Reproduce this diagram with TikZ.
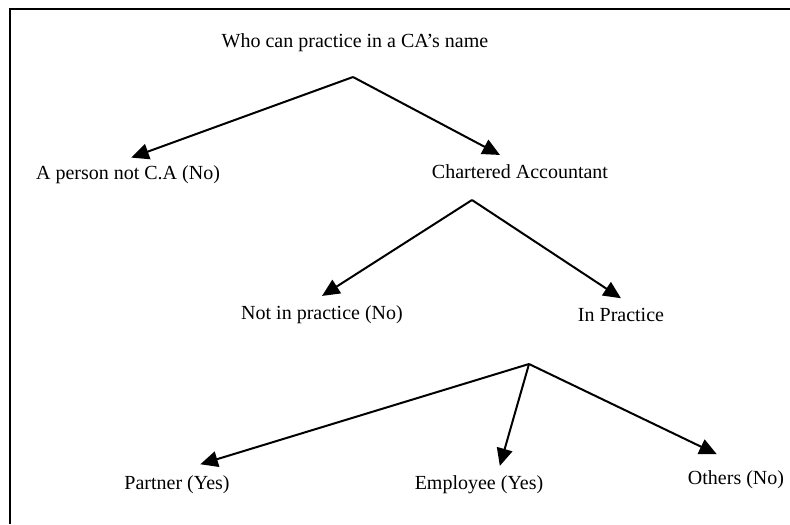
\documentclass[tikz,border=0pt]{standalone}
\usepackage{fontspec}
\setmainfont{Liberation Serif}
\usetikzlibrary{arrows.meta}

\begin{document}
\begin{tikzpicture}[x=0.6pt, y=-0.6pt]
  \tikzstyle{lbl}=[font=\fontsize{12}{14}\selectfont, inner sep=0pt, outer sep=6pt]
  \tikzstyle{arr}=[line width=1.2pt, -{Triangle[length=10.5pt,width=9.5pt]}]

    \useasboundingbox (0,0) rectangle (790,524);
    \draw [line width=1.5pt] (10,524) -- (10,9) -- (790,9);

    % top level
    \node[lbl] (title) at (355,43) {Who can practice in a CA's name};
    \coordinate (s0) at (353,77);
    \node[lbl] (notca) at (128,175) {A person not C.A (No)};
    \node[lbl] (ca) at (520,172) {Chartered Accountant};
    \draw[arr] (s0) -- ([xshift=2pt,yshift=-1pt]notca.north);
    \draw[arr] (s0) -- ([xshift=-12pt]ca.north);

    % chartered accountant
    \coordinate (s1) at (472,200);
    \node[lbl] (notin) at (322,315) {Not in practice (No)};
    \node[lbl] (inpr) at (621,315) {In Practice};
    \draw[arr] (s1) -- (notin.north);
    \draw[arr] (s1) -- (inpr.north);

    % in practice
    \coordinate (s2) at (529,364);
    \node[lbl] (partner) at (177,485) {Partner (Yes)};
    \node[lbl] (employee) at (479,485) {Employee (Yes)};
    \node[lbl] (others) at (736,480) {Others (No)};
    \draw[arr] (s2) -- ([xshift=14pt,yshift=1pt]partner.north);
    \draw[arr] (s2) -- ([xshift=12.5pt]employee.north);
    \draw[arr] (s2) -- ([xshift=-11.5pt,yshift=4pt]others.north);

\end{tikzpicture}
\end{document}
